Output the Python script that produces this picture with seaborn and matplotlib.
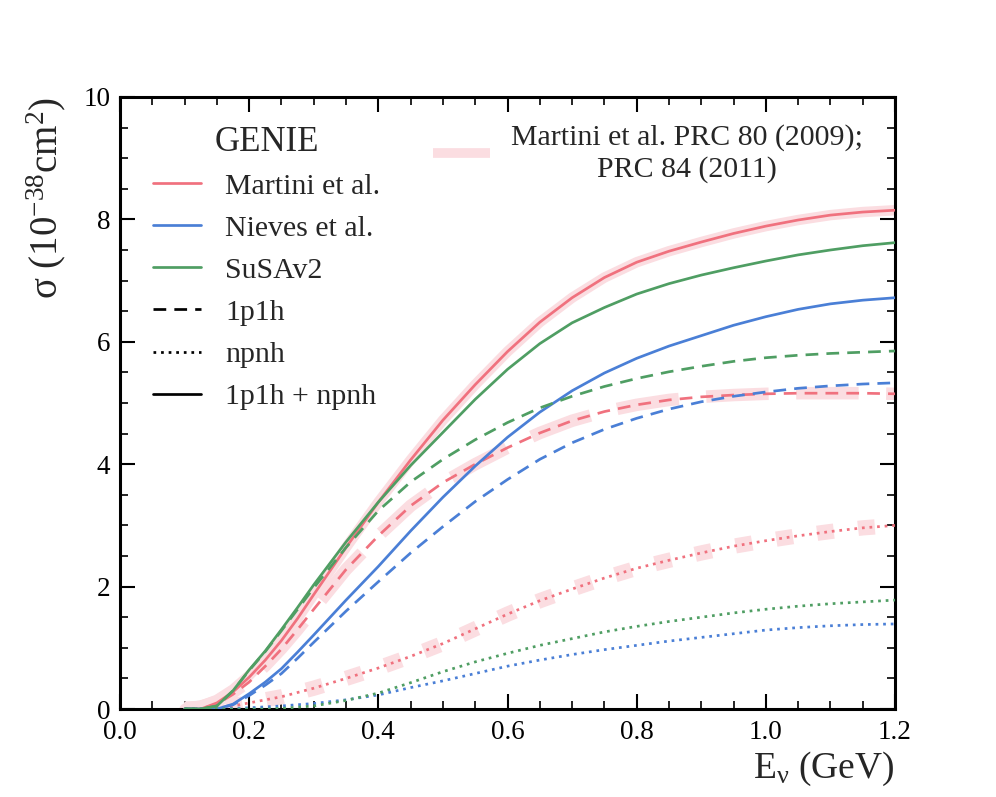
import numpy as np
import pandas as pd
import matplotlib
matplotlib.use("Agg")
import matplotlib.pyplot as plt
from matplotlib.lines import Line2D
from matplotlib.ticker import MultipleLocator, FormatStrFormatter
import seaborn as sns

# ---------------- data ----------------
energy = [0.10, 0.125, 0.15, 0.175, 0.20, 0.225, 0.25, 0.275, 0.30, 0.35, 0.40,
          0.45, 0.50, 0.55, 0.60, 0.65, 0.70, 0.75, 0.80, 0.85, 0.90, 0.95,
          1.00, 1.05, 1.10, 1.15, 1.20]

# GENIE, Martini et al.
martini_total = [0.0, 0.0, 0.10, 0.28, 0.52, 0.80, 1.12, 1.48, 1.87, 2.64, 3.38,
                 4.07, 4.72, 5.30, 5.84, 6.32, 6.72, 7.05, 7.30, 7.48, 7.63, 7.77,
                 7.89, 7.99, 8.07, 8.12, 8.15]
martini_1p1h = [0.0, 0.0, 0.08, 0.24, 0.44, 0.70, 0.98, 1.30, 1.63, 2.28, 2.83,
                3.32, 3.70, 4.00, 4.27, 4.51, 4.71, 4.86, 4.97, 5.05, 5.10, 5.13,
                5.15, 5.16, 5.16, 5.16, 5.15]
martini_npnh = [0.0, 0.0, 0.02, 0.05, 0.10, 0.15, 0.20, 0.27, 0.34, 0.50, 0.67,
                0.86, 1.07, 1.31, 1.55, 1.77, 1.96, 2.14, 2.30, 2.43, 2.55, 2.66,
                2.75, 2.83, 2.90, 2.96, 3.00]

# GENIE, Nieves et al.
nieves_total = [0.0, 0.0, 0.0, 0.08, 0.25, 0.44, 0.66, 0.93, 1.21, 1.78, 2.33,
                2.91, 3.46, 3.97, 4.44, 4.85, 5.20, 5.49, 5.73, 5.93, 6.10, 6.27,
                6.41, 6.53, 6.62, 6.68, 6.72]
nieves_1p1h = [0.0, 0.0, 0.0, 0.07, 0.22, 0.39, 0.58, 0.83, 1.09, 1.60, 2.08,
               2.55, 2.98, 3.39, 3.75, 4.08, 4.35, 4.57, 4.75, 4.90, 5.02, 5.11,
               5.18, 5.24, 5.28, 5.31, 5.33]
nieves_npnh = [0.0, 0.0, 0.0, 0.01, 0.02, 0.035, 0.05, 0.07, 0.09, 0.15, 0.23,
               0.35, 0.46, 0.58, 0.70, 0.80, 0.89, 0.97, 1.04, 1.11, 1.17, 1.23,
               1.29, 1.33, 1.36, 1.38, 1.39]

# GENIE, SuSAv2
susa_total = [0.0, 0.0, 0.05, 0.30, 0.64, 0.95, 1.30, 1.66, 2.03, 2.73, 3.38,
              3.98, 4.52, 5.06, 5.55, 5.97, 6.31, 6.56, 6.78, 6.95, 7.09, 7.21,
              7.32, 7.42, 7.50, 7.57, 7.62]
susa_1p1h = [0.0, 0.0, 0.05, 0.30, 0.63, 0.94, 1.28, 1.63, 1.98, 2.64, 3.24,
             3.71, 4.08, 4.40, 4.68, 4.92, 5.11, 5.27, 5.40, 5.51, 5.60, 5.68,
             5.74, 5.78, 5.81, 5.83, 5.85]
susa_npnh = [0.0, 0.0, 0.0, 0.0, 0.0, 0.0, 0.01, 0.03, 0.05, 0.14, 0.26,
             0.43, 0.61, 0.77, 0.91, 1.04, 1.15, 1.26, 1.35, 1.43, 1.50, 1.57,
             1.63, 1.68, 1.72, 1.75, 1.78]

# Martini et al. PRC 80 (2009); PRC 84 (2011) reference calculation
ref_total = [0.0, 0.05, 0.15, 0.32, 0.55, 0.82, 1.13, 1.48, 1.87, 2.64, 3.38,
             4.07, 4.72, 5.30, 5.84, 6.32, 6.72, 7.05, 7.30, 7.48, 7.63, 7.77,
             7.89, 7.99, 8.07, 8.12, 8.15]
ref_1p1h = [0.0, 0.04, 0.12, 0.27, 0.46, 0.71, 0.99, 1.30, 1.63, 2.28, 2.83,
            3.32, 3.70, 4.00, 4.27, 4.51, 4.71, 4.86, 4.97, 5.05, 5.10, 5.13,
            5.15, 5.16, 5.16, 5.16, 5.15]
ref_npnh = [0.0, 0.01, 0.03, 0.06, 0.10, 0.15, 0.20, 0.27, 0.34, 0.50, 0.67,
            0.86, 1.07, 1.31, 1.55, 1.77, 1.96, 2.14, 2.30, 2.43, 2.55, 2.66,
            2.75, 2.83, 2.90, 2.96, 3.00]

x_ticks = [0.0, 0.2, 0.4, 0.6, 0.8, 1.0, 1.2]
y_ticks = [0, 2, 4, 6, 8, 10]

# ---------------- style ----------------
sns.set_theme(style="ticks")
plt.rcParams["font.family"] = ["Liberation Serif", "DejaVu Serif"]
plt.rcParams["mathtext.fontset"] = "custom"
plt.rcParams["mathtext.rm"] = "Liberation Serif"
plt.rcParams["mathtext.it"] = "Liberation Serif:italic"
plt.rcParams["mathtext.default"] = "regular"

RED = "#f0717e"
BLUE = "#4a7fd6"
GREEN = "#4f9e63"
BAND = "#fbdde1"

fig = plt.figure(figsize=(9.96, 7.97), dpi=100)
ax = fig.add_axes([0.1205, 0.1104, 0.7781, 0.7679])

# reference bands
band_solid = "-"
band_dash = (0, (5.0, 2.2))
band_dot = (0, (1.1, 1.6))
sns.lineplot(x=energy, y=ref_total, ax=ax, color=BAND, linewidth=7.5,
             linestyle=band_solid, zorder=1, legend=False)
sns.lineplot(x=energy, y=ref_1p1h, ax=ax, color=BAND, linewidth=9,
             linestyle=band_dash, zorder=1, legend=False)
sns.lineplot(x=energy, y=ref_npnh, ax=ax, color=BAND, linewidth=11,
             linestyle=band_dot, zorder=1, legend=False)

LW = 1.95
dash = (0, (4.7, 3.0))
dot = (0, (1.0, 1.8))
series = [
    (martini_total, RED, "-"), (martini_1p1h, RED, dash), (martini_npnh, RED, dot),
    (nieves_total, BLUE, "-"), (nieves_1p1h, BLUE, dash), (nieves_npnh, BLUE, dot),
    (susa_total, GREEN, "-"), (susa_1p1h, GREEN, dash), (susa_npnh, GREEN, dot),
]
for vals, col, ls in series:
    sns.lineplot(x=energy, y=vals, ax=ax, color=col, linewidth=LW,
                 linestyle=ls, zorder=3, legend=False)

ax.set_xlim(0, 1.2)
ax.set_ylim(0, 10)
ax.set_xticks(x_ticks)
ax.set_yticks(y_ticks)
ax.xaxis.set_major_formatter(FormatStrFormatter("%.1f"))
ax.xaxis.set_minor_locator(MultipleLocator(0.05))
ax.yaxis.set_minor_locator(MultipleLocator(0.5))
ax.tick_params(which="both", direction="in", top=True, right=True,
               colors="black", labelsize=19.5)
ax.tick_params(which="major", length=11, width=1.5, pad=7)
ax.tick_params(axis="x", which="major", pad=8)
ax.tick_params(which="minor", length=5.5, width=1.2)
for s in ax.spines.values():
    s.set_linewidth(2.2)
    s.set_color("black")
    s.set_visible(True)

ax.set_xlabel("E$_{ν}$ (GeV)", fontsize=27, loc="right", labelpad=3)
ax.set_ylabel("σ (10$^{-38}$cm$^{2}$)", fontsize=28, loc="top", labelpad=11)

# legend 1: GENIE
h1 = [Line2D([], [], color=RED, lw=LW), Line2D([], [], color=BLUE, lw=LW),
      Line2D([], [], color=GREEN, lw=LW),
      Line2D([], [], color="black", lw=LW, linestyle=dash),
      Line2D([], [], color="black", lw=LW, linestyle=dot),
      Line2D([], [], color="black", lw=LW, linestyle="-")]
l1 = ["Martini et al.", "Nieves et al.", "SuSAv2", "1p1h", "npnh", "1p1h + npnh"]
leg1 = ax.legend(h1, l1, title="GENIE", loc="upper left",
                 bbox_to_anchor=(0.043, 0.953), frameon=False, fontsize=21.5,
                 title_fontsize=25, handlelength=1.6, handletextpad=0.8,
                 labelspacing=0.51, borderpad=0, borderaxespad=0)
leg1._legend_box.sep = 10
ax.add_artist(leg1)

# legend 2: reference calculation
h2 = [Line2D([], [], color=BAND, lw=7, solid_capstyle="butt")]
leg2 = ax.legend(h2, ["Martini et al. PRC 80 (2009);\nPRC 84 (2011)"],
                 loc="upper left", bbox_to_anchor=(0.404, 0.955), frameon=False,
                 fontsize=21.5, handlelength=1.9, handletextpad=0.7,
                 borderpad=0, borderaxespad=0)
for t in leg2.get_texts():
    t.set_multialignment("center")

fig.savefig("out.png", dpi=100, facecolor="white")
